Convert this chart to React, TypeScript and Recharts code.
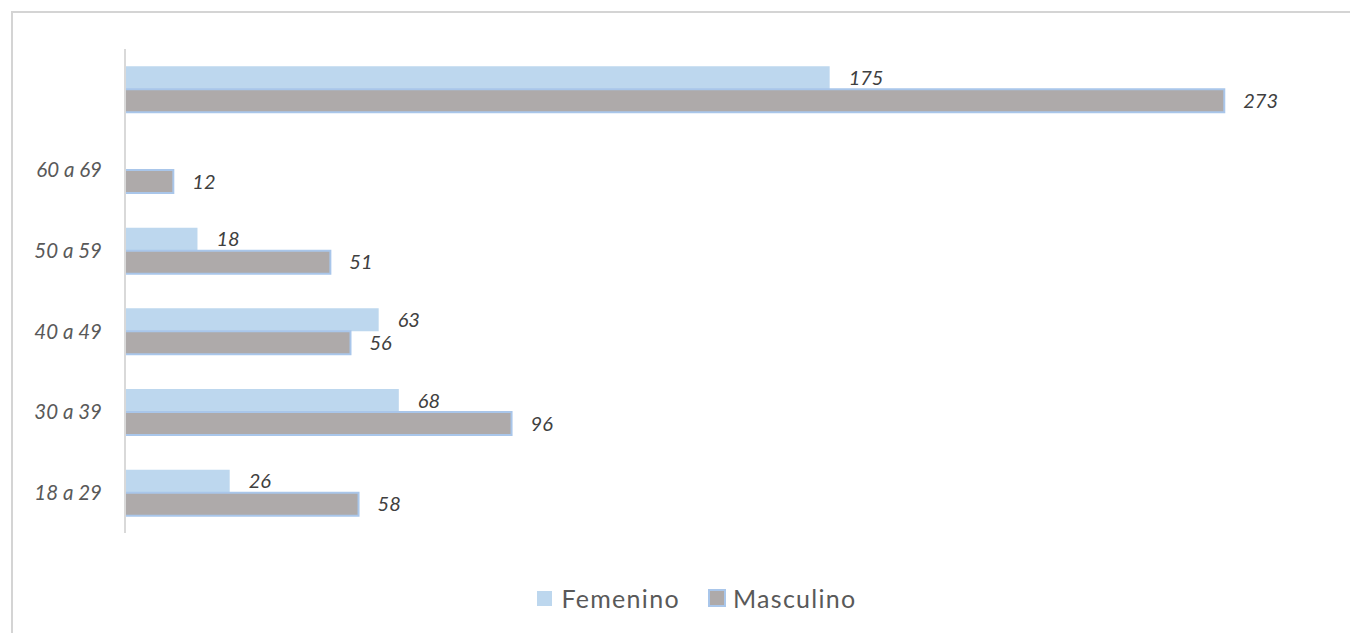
import React from "react";
import { BarChart, Bar, XAxis, YAxis, Legend, LabelList } from "recharts";

const categories = ["18 a 29", "30 a 39", "40 a 49", "50 a 59", "60 a 69", ""];
const femenino: (number | null)[] = [26, 68, 63, 18, null, 175];
const masculino: (number | null)[] = [58, 96, 56, 51, 12, 273];
const seriesNames = ["Femenino", "Masculino"];

const FEM_FILL = "#bdd7ee";
const MASC_FILL = "#aeaaaa";
const MASC_STROKE = "#a9c6ea";
const FONT = "Lato, 'Open Sans', sans-serif";

const data = categories.map((c, i) => ({
  cat: c,
  fem: femenino[i],
  masc: masculino[i],
}));

const renderLabel = (props: any) => {
  const { x, y, width, height, value } = props;
  if (value === null || value === undefined) return null;
  return (
    <text
      x={Number(x) + Number(width) + 19}
      y={Number(y) + Number(height) / 2}
      dy="0.35em"
      fill="#404040"
      fontSize={20}
      fontStyle="italic"
      fontFamily={FONT}
      textAnchor="start"
    >
      {value}
    </text>
  );
};

const LegendContent = () => (
  <div
    style={{
      height: 95,
      boxSizing: "border-box",
      paddingTop: 50,
      display: "flex",
      justifyContent: "center",
      alignItems: "flex-start",
      fontFamily: FONT,
      fontSize: 25,
      lineHeight: "30px",
      letterSpacing: 1.3,
      color: "#595959",
      paddingLeft: 48,
    }}
  >
    <span style={{ display: "inline-flex", alignItems: "center", marginRight: 28 }}>
      <span style={{ width: 15, height: 15, background: FEM_FILL, display: "inline-block", marginRight: 9 }} />
      {seriesNames[0]}
    </span>
    <span style={{ display: "inline-flex", alignItems: "center" }}>
      <span
        style={{
          width: 14,
          height: 14,
          background: MASC_FILL,
          border: `2px solid ${MASC_STROKE}`,
          display: "inline-block",
          marginRight: 7,
        }}
      />
      {seriesNames[1]}
    </span>
  </div>
);

export default function App() {
  return (
    <div style={{ paddingTop: 3, paddingLeft: 3 }}>
      <div
        style={{
          width: 1345,
          height: 620,
          borderTop: "2px solid #d4d4d4",
          borderLeft: "2px solid #d4d4d4",
          background: "#ffffff",
        }}
      >
        <BarChart
          width={1340}
          height={615}
          data={data}
          layout="vertical"
          margin={{ top: 36, right: 20, bottom: 0, left: 0 }}
          barCategoryGap="21.5%"
          barGap={0}
        >
          <XAxis type="number" domain={[0, 300]} hide />
          <YAxis
            type="category"
            dataKey="cat"
            reversed
            width={112}
            tickSize={0}
            tickMargin={23}
            axisLine={{ stroke: "#d9d9d9", strokeWidth: 2 }}
            tickLine={false}
            tick={{ fill: "#595959", fontSize: 20.5, fontStyle: "italic", fontFamily: FONT }}
          />
          <Legend verticalAlign="bottom" height={95} content={<LegendContent />} />
          <Bar dataKey="fem" name={seriesNames[0]} fill={FEM_FILL} isAnimationActive={false}>
            <LabelList dataKey="fem" content={renderLabel} />
          </Bar>
          <Bar
            dataKey="masc"
            name={seriesNames[1]}
            fill={MASC_FILL}
            stroke={MASC_STROKE}
            strokeWidth={2}
            isAnimationActive={false}
          >
            <LabelList dataKey="masc" content={renderLabel} />
          </Bar>
        </BarChart>
      </div>
    </div>
  );
}
